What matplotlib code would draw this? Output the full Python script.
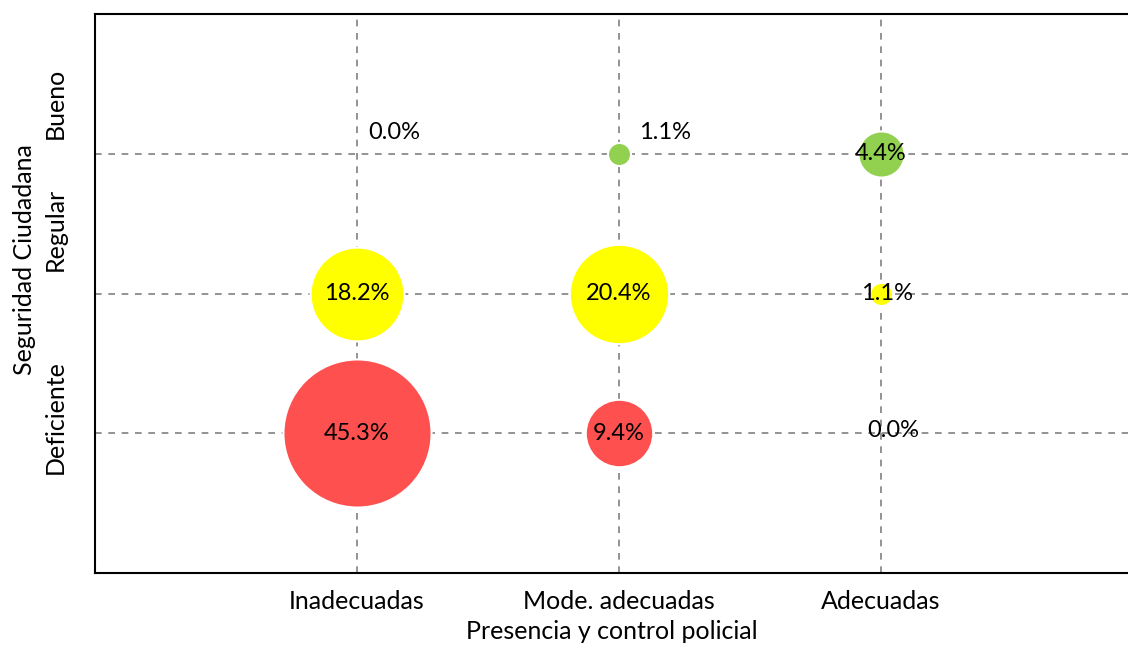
"""Bubble chart: Seguridad Ciudadana vs Presencia y control policial."""

import matplotlib.pyplot as plt
from matplotlib.transforms import ScaledTranslation

x_labels = ["Inadecuadas", "Mode. adecuadas", "Adecuadas"]
y_labels = ["Deficiente", "Regular", "Bueno"]

# percentages per row (Deficiente, Regular, Bueno) across the x categories
deficiente = [45.3, 9.4, 0.0]
regular = [18.2, 20.4, 1.1]
bueno = [0.0, 1.1, 4.4]

row_colors = ["#FF5050", "#FFFF00", "#92D050"]

plt.rcParams["font.family"] = ["Lato", "DejaVu Sans"]

fig = plt.figure(figsize=(11.28, 6.51), dpi=100)
ax = fig.add_axes([95 / 1128, 1 - 573 / 651, 1 - 95 / 1128, (573 - 14) / 651])

xs = [1, 2, 3]
rows = [deficiente, regular, bueno]
label_fs = 17
for j, (vals, color) in enumerate(zip(rows, row_colors)):
    y = j + 1
    for x, v in zip(xs, vals):
        if v > 0:
            ax.scatter(x, y, s=v * 251, color=color, edgecolors="white",
                       linewidths=1.5, zorder=3)
        # label placement mimics the original data labels
        if x == 1 and y == 3:
            offset = (37, 21)
        elif x == 2 and y == 3:
            offset = (46, 21)
        elif x == 3 and y == 1:
            offset = (12, 3)
        elif x == 3 and y == 2:
            offset = (6, 0)
        else:
            offset = (0, 0)
        ax.annotate(f"{v:.1f}%", (x, y), xytext=offset, textcoords="offset pixels",
                    ha="center", va="center", fontsize=label_fs, zorder=4)

ax.set_xlim(0, (1128 - 95) / 262)
ax.set_ylim(0, 4)
ax.set_xticks(xs)
ax.set_xticklabels(x_labels, fontsize=18)
ax.set_yticks([1, 2, 3])
ax.set_yticklabels(y_labels, fontsize=18, rotation=90, va="center")
ax.tick_params(length=0)
ax.tick_params(axis="x", pad=12)
ax.tick_params(axis="y", pad=20)
ax.set_xlabel("Presencia y control policial", fontsize=18, labelpad=5)
ax.set_ylabel("Seguridad Ciudadana", fontsize=18, labelpad=6, y=0.56)

# the original category labels sit a little above their gridlines
for lbl, shift in zip(ax.get_yticklabels(), [16, 64, 50]):
    lbl.set_transform(lbl.get_transform()
                      + ScaledTranslation(0, shift / 100, fig.dpi_scale_trans))

ax.grid(True, linestyle=(0, (4, 4)), color="#808080", linewidth=1.2, zorder=1)
ax.set_axisbelow(True)
ax.spines["right"].set_visible(False)
for side in ("left", "bottom", "top"):
    ax.spines[side].set_linewidth(1.5)

fig.savefig("out.png", dpi=100)
